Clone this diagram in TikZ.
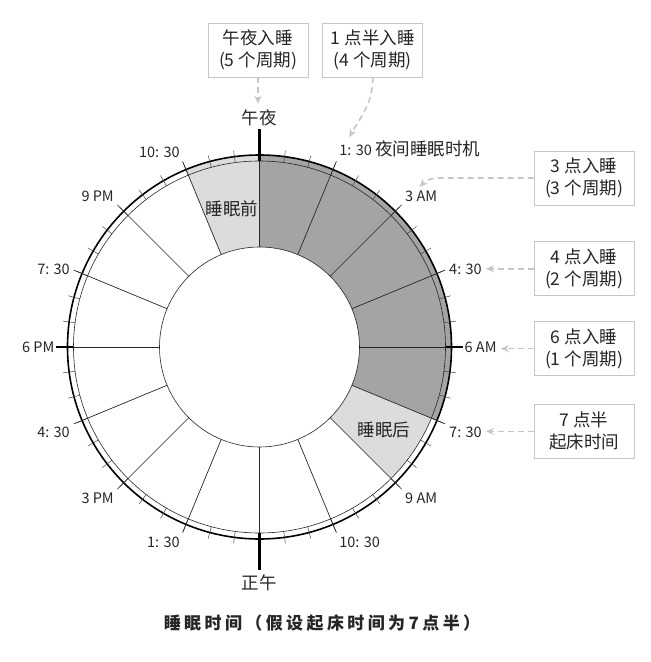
\documentclass[tikz,border=0pt]{standalone}
\usepackage{fontspec}
\setmainfont{Noto Sans CJK SC}
\newfontfamily\capfont{Noto Sans CJK SC}[LetterSpace=20]
\usetikzlibrary{
	arrows.meta,
	positioning,
}
\definecolor{NightGray}{HTML}{A4A4A4}
\definecolor{EdgeGray}{HTML}{DCDCDC}
\definecolor{HintGray}{HTML}{C6C6C6}
% filled piece of the ring: colour, start angle, end angle, inner and outer radius
\newcommand{\ringpart}[5]{\fill[#1] (#2:#4) arc[start angle=#2, end angle=#3, radius=#4]
	-- (#3:#5) arc[start angle=#3, end angle=#2, radius=#5] -- cycle;}

\begin{document}
\begin{tikzpicture}[x=1pt, y=1pt,
		every node/.style={font=\fontsize{17.5}{22}\selectfont, text=black!85},
		node distance = 14pt and 14pt,
		box/.style = {rectangle, draw=HintGray, thick, fill=white,
			minimum width=100pt, minimum height=54pt, align=center, inner sep=2pt},
		hint/.style = {HintGray, line width=1.6pt, dash pattern=on 6pt off 4pt,
			-{Stealth[length=8pt, width=7pt]}, shorten >=2pt},
		time/.style = {font=\fontsize{14.5}{16}\selectfont, inner sep=2pt},
		spoke/.style = {black!85, line width=0.7pt},
		tick/.style = {black!75, line width=0.5pt},
		cardinal/.style = {black, line width=2.4pt},
	]
	\useasboundingbox (-259.5,-315) rectangle (391.5,347);
	\ringpart{NightGray}{90}{-22.5}{100}{192}
	\ringpart{EdgeGray}{112.5}{90}{100}{192}
	\ringpart{EdgeGray}{-22.5}{-45}{100}{186}
	\draw[black!85, line width=0.6pt] (0,0) circle[radius=100] (0,0) circle[radius=186];
	\draw[black, line width=1.6pt] (0,0) circle[radius=192];
	\foreach \a in {0,7.5,...,359}
		\draw[tick] (\a:186) -- (\a:198);
	\foreach \a in {0,22.5,...,359}
		\draw[spoke] (\a:100) -- (\a:201);
	\draw[cardinal] (90:186) -- (90:218);
	\draw[cardinal] (-90:186) -- (-90:223);
	\draw[cardinal] (0:186) -- (0:203);
	\draw[cardinal] (180:186) -- (180:203);

	\node[anchor=south] (mid) at (90:218) {午夜};
	\node[anchor=north, inner sep=5pt] (noon) at (-90:223) {正午};
	\foreach \h/\an/\txt [count=\i] in {
			1.5/south west/{1: 30 {\fontsize{17.5}{20}\selectfont 夜间睡眠时机}},
			3/south west/3 AM, 4.5/west/4: 30, 6/west/6 AM, 7.5/north west/7: 30,
			9/north west/9 AM, 10.5/north west/10: 30, 13.5/north east/1: 30,
			15/north east/3 PM, 16.5/north east/4: 30, 18/east/6 PM,
			19.5/east/7: 30, 21/south east/9 PM, 22.5/south east/10: 30}
		\node[time, anchor=\an] (t\i) at ({90-15*\h}:203) {\txt};
	\node (pre) at (101.25:141) {睡眠前};
	\node (post) at (-33.75:150) {睡眠后};

	\node[box] (b1) at (-1.5,297) {午夜入睡\\(5 个周期)};
	\node[box, right=of b1] (b2) {1 点半入睡\\(4 个周期)};
	\node[box] (b3) at (324.5,169) {3 点入睡\\(3 个周期)};
	\node[box, below=36pt of b3] (b4) {4 点入睡\\(2 个周期)};
	\node[box, below=25pt of b4] (b5) {6 点入睡\\(1 个周期)};
	\node[box, below=28pt of b5] (b6) {7 点半\\起床时间};

	\draw[hint] (b1.south) -- (b1.south |- mid.north);
	\draw[hint] (b2.south) to[out=-90, in=60] ([xshift=11pt]t1.north west);
	\draw[hint] (b3.west) -- ++(-95,0) to[out=180, in=45] ([xshift=-3pt]t2.north);
	\draw[hint] (b4.west) -- (b4.west -| t3.east);
	\draw[hint] (b5.west) -- (b5.west -| t4.east);
	\draw[hint] (b6.west) -- (b6.west -| t5.east);

	\node[font=\capfont\bfseries\fontsize{17}{20}\selectfont] (cap) at (62.5,-276)
		{睡眠时间（假设起床时间为7点半）};
\end{tikzpicture}
\end{document}
